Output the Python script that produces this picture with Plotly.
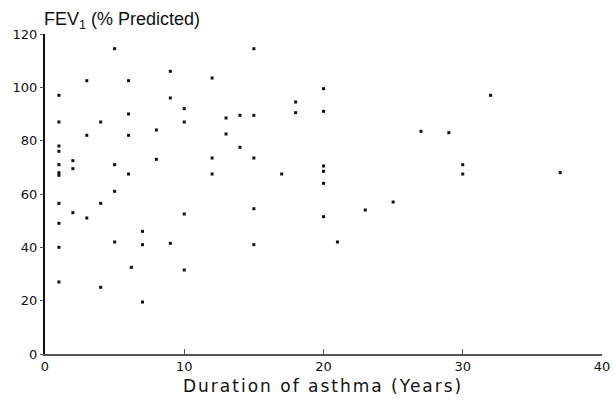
import plotly.graph_objects as go

# Duration of asthma (years) and FEV1 (% predicted)
duration = [
    1, 1, 1, 1, 1, 1, 1, 1, 1, 1, 1,
    2, 2, 2,
    3, 3, 3,
    4, 4, 4,
    5, 5, 5, 5,
    6, 6, 6, 6, 6.2,
    7, 7, 7,
    8, 8,
    9, 9, 9,
    10, 10, 10, 10,
    12, 12, 12,
    13, 13,
    14, 14,
    15, 15, 15, 15, 15,
    17,
    18, 18,
    20, 20, 20, 20, 20, 20,
    21, 23, 25, 27, 29,
    30, 30, 32, 37,
]
fev1 = [
    97, 87, 78, 76, 71, 68, 67, 56.5, 49, 40, 27,
    72.5, 69.5, 53,
    102.5, 82, 51,
    87, 56.5, 25,
    114.5, 71, 61, 42,
    102.5, 90, 82, 67.5, 32.5,
    46, 41, 19.5,
    84, 73,
    106, 96, 41.5,
    92, 87, 52.5, 31.5,
    103.5, 73.5, 67.5,
    88.5, 82.5,
    89.5, 77.5,
    114.5, 89.5, 73.5, 54.5, 41,
    67.5,
    94.5, 90.5,
    99.5, 91, 70.5, 68.5, 64, 51.5,
    42, 54, 57, 83.5, 83,
    71, 67.5, 97, 68,
]

x_ticks = [0, 10, 20, 30, 40]
y_ticks = [0, 20, 40, 60, 80, 100, 120]

fig = go.Figure(
    go.Scatter(
        x=duration, y=fev1, mode="markers",
        marker=dict(symbol="square", size=3, color="#111111", line=dict(width=0)),
        hoverinfo="x+y",
    )
)

title_font = "Liberation Sans, Arial, sans-serif"
tick_font = "DejaVu Sans, sans-serif"

fig.update_layout(
    width=614, height=404,
    margin=dict(l=45, r=12, t=34, b=50),
    paper_bgcolor="white", plot_bgcolor="white",
    showlegend=False,
    font=dict(family=title_font, color="#111111"),
    xaxis=dict(
        range=[0, 40], tickvals=x_ticks, ticktext=[str(v) for v in x_ticks],
        showgrid=False, zeroline=False, automargin=False,
        showline=True, linecolor="#555555", linewidth=1.5,
        ticks="inside", ticklen=5, tickcolor="#555555", tickwidth=1,
        tickfont=dict(size=13, family=tick_font, color="#111111"),
    ),
    yaxis=dict(
        range=[0, 120], tickvals=y_ticks, ticktext=[str(v) for v in y_ticks],
        showgrid=False, zeroline=False, automargin=False,
        showline=True, linecolor="#111111", linewidth=2,
        ticks="outside", ticklen=3, tickcolor="#555555", tickwidth=1,
        tickfont=dict(size=13, family=tick_font, color="#111111"),
    ),
    annotations=[
        dict(
            text="FEV<sub>1</sub> (% Predicted)", xref="paper", yref="paper",
            x=0, y=1, xanchor="left", yanchor="bottom", yshift=0, xshift=-3,
            showarrow=False,
            font=dict(size=18, family=title_font, color="#111111"),
        ),
        dict(
            text="Duration of asthma (Years)", xref="paper", yref="paper",
            x=0.5, y=0, xanchor="center", yanchor="top", yshift=-20, xshift=-1,
            showarrow=False,
            font=dict(size=17, family=tick_font, color="#111111"),
        ),
    ],
)

post = (
    "document.body.style.margin='0';"
    "document.body.style.overflow='hidden';"
    "var a=document.querySelectorAll('.annotation-text');"
    "if(a.length>1){a[1].style.letterSpacing='2px';}"
)

fig.write_html("out.html", config={"displayModeBar": False}, post_script=post)
